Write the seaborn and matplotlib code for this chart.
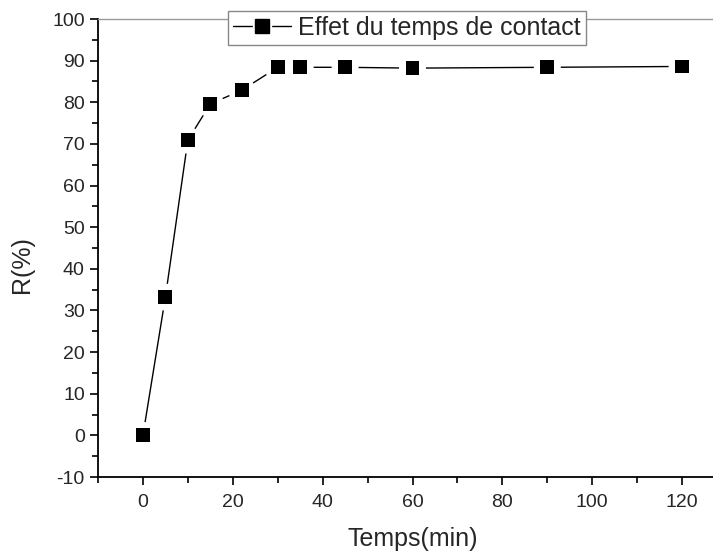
import matplotlib
matplotlib.use("Agg")
import matplotlib.pyplot as plt
from matplotlib.ticker import MultipleLocator
from matplotlib.lines import Line2D
from matplotlib.legend_handler import HandlerTuple
import seaborn as sns
import pandas as pd

# Contact time (min) and removal efficiency R (%)
temps = [0, 5, 10, 15, 22, 30, 35, 45, 60, 90, 120]
rendement = [0.0, 33.2, 70.9, 79.6, 82.9, 88.4, 88.4, 88.4, 88.2, 88.4, 88.6]
serie = "Effet du temps de contact"

df = pd.DataFrame({"Temps": temps, "R": rendement})

sns.set_style("ticks")
plt.rcParams["font.family"] = ["Liberation Sans", "DejaVu Sans"]
plt.rcParams["axes.unicode_minus"] = False

fig = plt.figure(figsize=(7.13, 5.54), dpi=100)
# the plotting area runs on past the right edge of the canvas
ax = fig.add_axes([98 / 713, 77 / 554, 629 / 713, 458 / 554])

# connecting line, then white discs that open a gap around each point, then the markers
sns.lineplot(data=df, x="Temps", y="R", ax=ax, color="black", linewidth=1.0,
             zorder=1, legend=False)
sns.scatterplot(data=df, x="Temps", y="R", ax=ax, marker="o", s=377,
                color="white", edgecolor="none", zorder=2, legend=False)
sns.scatterplot(data=df, x="Temps", y="R", ax=ax, marker="s", s=100,
                color="black", edgecolor="none", zorder=3, legend=False)

ax.set_xlim(-10, 130)
ax.set_ylim(-10, 100)
ax.xaxis.set_major_locator(MultipleLocator(20))
ax.xaxis.set_minor_locator(MultipleLocator(10))
ax.yaxis.set_major_locator(MultipleLocator(10))
ax.yaxis.set_minor_locator(MultipleLocator(5))

ax.tick_params(axis="both", which="major", direction="out", length=6, width=1.2,
               labelsize=14, color="black")
ax.tick_params(axis="x", which="major", pad=6)
ax.tick_params(axis="both", which="minor", direction="out", length=4, width=1.2,
               color="black")

ax.set_xlabel("Temps(min)", fontsize=18, labelpad=12)
ax.set_ylabel("R(%)", fontsize=18)
ax.yaxis.set_label_coords(-0.1016, (477 - 264.5) / 458)

for side in ("left", "bottom"):
    ax.spines[side].set_linewidth(1.3)
    ax.spines[side].set_color("black")
ax.spines["top"].set_color("#999999")
ax.spines["top"].set_linewidth(1.0)
ax.spines["right"].set_visible(False)

h_line = Line2D([], [], color="black", linewidth=1.0)
h_gap = Line2D([], [], color="white", marker="s", markersize=13, linestyle="none")
h_mark = Line2D([], [], color="black", marker="s", markersize=9.5, linestyle="none")
leg = ax.legend([(h_line, h_gap, h_mark)], [serie],
                handler_map={tuple: HandlerTuple(ndivide=1)},
                loc="center", bbox_to_anchor=((407 - 98) / 629, (477 - 28) / 458),
                fontsize=18, frameon=True, fancybox=False, framealpha=1,
                edgecolor="#888888", handlelength=2.3, handletextpad=0.3,
                borderpad=0.2, borderaxespad=0)
leg.get_frame().set_linewidth(1.0)
leg.set_zorder(5)

fig.savefig("out.png", dpi=100)
